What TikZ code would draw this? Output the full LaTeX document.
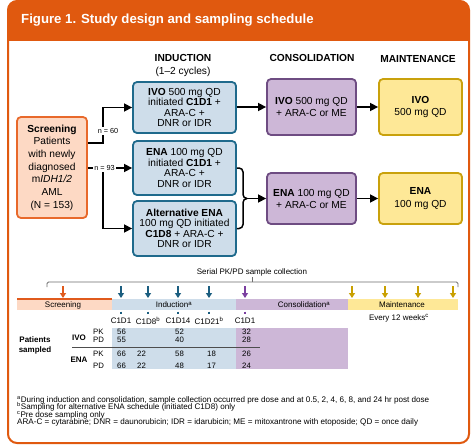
\documentclass[tikz,border=0pt]{standalone}
\usepackage{fontspec}
\setmainfont{Liberation Sans}
\usetikzlibrary{arrows.meta}
\definecolor{hdr}{HTML}{E0590F}
\definecolor{scrfill}{HTML}{FDD9C4}
\definecolor{scrline}{HTML}{E8692B}
\definecolor{bluefill}{HTML}{CEDDEA}
\definecolor{blueline}{HTML}{1F6A8C}
\definecolor{purpfill}{HTML}{CDB7D7}
\definecolor{purpline}{HTML}{6E4C82}
\definecolor{yelfill}{HTML}{FEE897}
\definecolor{yelline}{HTML}{C9A10C}
\definecolor{tlgray}{HTML}{6E6E6E}
\definecolor{arrblue}{HTML}{1B5E80}
\definecolor{arrpurp}{HTML}{7B3FA0}
\definecolor{arrgold}{HTML}{C9A000}
\definecolor{arrorange}{HTML}{E05A1C}
\newcommand\fsz[2]{\fontsize{#1}{#2}\selectfont}
\newcommand\tightlines{\lineskiplimit=-20pt\relax\lineskip=0pt\relax}
\begin{document}
\begin{tikzpicture}[x=1pt,y=-1pt,
  box/.style={draw, line width=1.8pt, rounded corners=4pt, align=center, inner sep=0pt, font=\fsz{10.2}{10.5}},
  indbox/.style={box, fill=bluefill, draw=blueline, minimum width=103pt},
  consbox/.style={box, fill=purpfill, draw=purpline, minimum width=89pt, font=\fsz{10.2}{12}},
  maintbox/.style={box, fill=yelfill, draw=yelline, minimum width=83pt, font=\fsz{10.2}{12.5}},
  hd/.style={font=\fsz{10.2}{12}\bfseries},
  conn/.style={line width=1.5pt, -{Triangle[length=8pt,width=8pt]}},
  plain/.style={line width=1.5pt},
  nlab/.style={fill=white, inner sep=1pt, font=\fsz{7.3}{8}},
  tarr/.style={line width=1.3pt, -{Triangle[length=5pt,width=6pt]}},
  tl/.style={font=\fsz{8}{9.5}},
  tb/.style={font=\fsz{7.8}{9}, anchor=west, inner sep=0pt},
  tbb/.style={font=\fsz{8}{9.5}\bfseries, align=center, inner sep=0pt},
]
\useasboundingbox (0,0) rectangle (474,447);
\fill[white] (0,0) rectangle (474,447);
% frame and header
\begin{scope}
\clip[rounded corners=9pt] (8,1) rectangle (469,443);
\fill[hdr] (8,1) rectangle (469,41);
\end{scope}
\draw[hdr, line width=2pt, rounded corners=9pt] (8,1) rectangle (469,443);
\node[anchor=west, text=white, font=\fsz{13.2}{15}\bfseries, inner sep=0pt] (title) at (21,20) {Figure 1. Study design and sampling schedule};

% column headers
\node[hd] (hInd) at (183,58) {INDUCTION};
\node[font=\fsz{10.2}{12}] (hCyc) at (183,72) {(1--2 cycles)};
\node[hd] (hCons) at (312,58) {CONSOLIDATION};
\node[hd] (hMaint) at (418,59) {MAINTENANCE};

% boxes
\node[box, fill=scrfill, draw=scrline, minimum width=70pt, minimum height=101pt, font=\fsz{10.2}{12.7}] (scr) at (52,167.5)
  {\textbf{Screening}\\Patients\\with newly\\diagnosed\\m\textit{IDH1/2}\\AML\\(N = 153)};
\node[indbox, minimum height=51pt] (ivoInd) at (184.5,107.5) {\textbf{IVO} 500 mg QD\\initiated \textbf{C1D1} +\\ARA-C +\\DNR or IDR};
\node[indbox, minimum height=54pt] (enaInd) at (184.5,168) {\textbf{ENA} 100 mg QD\\initiated \textbf{C1D1} +\\ARA-C +\\DNR or IDR};
\node[indbox, minimum height=55pt] (altInd) at (184.5,228.5) {\textbf{Alternative ENA}\\100 mg QD initiated\\\textbf{C1D8} + ARA-C +\\DNR or IDR};
\node[consbox, minimum height=56pt] (consIvo) at (311.5,107) {\textbf{IVO} 500 mg QD\\+ ARA-C or ME};
\node[maintbox, minimum height=56pt] (maintIvo) at (420.5,107) {\textbf{IVO}\\500 mg QD};
\node[consbox, minimum height=51pt] (consEna) at (311.5,198.5) {\textbf{ENA} 100 mg QD\\+ ARA-C or ME};
\node[maintbox, minimum height=51pt] (maintEna) at (420.5,198.5) {\textbf{ENA}\\100 mg QD};

% connectors
\coordinate (j60) at (103,143);
\coordinate (j93) at (103,168);
\draw[conn] (scr.east |- j60) -- (j60) |- (ivoInd.west);
\draw[conn] (scr.east |- enaInd.west) -- (enaInd.west);
\draw[conn] (j93) |- (altInd.west);
\node[nlab] (n60) at (108,131) {n = 60};
\node[nlab] (n93) at (104.5,168) {n = 93};
\draw[conn] (ivoInd.east |- consIvo.west) -- (consIvo.west);
\draw[conn] (consIvo.east) -- (maintIvo.west);
\draw[conn] (consEna.east) -- (maintEna.west);
\coordinate (bj) at (243,198.5);
\coordinate (bj2) at (247,198.5);
\draw[plain, rounded corners=4pt] (enaInd.east) -| (bj) -- (bj2);
\draw[plain, rounded corners=4pt] (altInd.east) -| (bj) -- (bj2);
\draw[conn] (bj2) -- (consEna.west);

% timeline
\node[tl] (serial) at (252,272) {Serial PK/PD sample collection};
\draw[tlgray, line width=0.9pt, rounded corners=1.5pt] (47,287) -- (47,282) -- (458,282) -- (458,287);
\draw[tlgray, line width=0.9pt] (252,282) -- (252,277);
% phase bar
\fill[scrfill] (17,299) rectangle (112,310);
\draw[arrorange, line width=1.4pt] (17,299) -- (112,299);
\fill[bluefill] (112,299) rectangle (236,310);
\fill[purpfill] (236,299) rectangle (348,310);
\fill[yelfill] (348,299) rectangle (458,310);
\node[tl] (pScr) at (63,305) {Screening};
\node[tl] (pInd) at (174,305) {Induction\textsuperscript{a}};
\node[tl] (pCons) at (304,305) {Consolidation\textsuperscript{a}};
\node[tl] (pMaint) at (402,305) {Maintenance};
\node[tl] (every) at (399,318) {Every 12 weeks\textsuperscript{c}};
% arrows
\draw[tarr, arrorange] (63,286) -- (63,298);
\foreach \x in {121,148,178,209} {
  \draw[tarr, arrblue] (\x,286) -- (\x,298);
  \draw[arrblue, line width=1.2pt] (\x,311.5) -- (\x,314);
}
\draw[tarr, arrpurp] (245,286) -- (245,298);
\draw[arrpurp, line width=1.2pt] (245,311.5) -- (245,314);
\foreach \x in {352,385,418,453} {
  \draw[tarr, arrgold] (\x,286) -- (\x,298);
}
\node[tl] (c1) at (121,321) {C1D1};
\node[tl] (c8) at (148,321) {C1D8\textsuperscript{b}};
\node[tl] (c14) at (178,321) {C1D14};
\node[tl] (c21) at (209,321) {C1D21\textsuperscript{b}};
\node[tl] (cc1) at (245,321) {C1D1};

% table
\fill[bluefill] (112,328) rectangle (236,369);
\fill[purpfill] (236,328) rectangle (348,369);
\node[tbb] (ps) at (35,345.5) {Patients\\sampled};
\node[tbb] (tIvo) at (79,338) {IVO};
\node[tbb] (tEna) at (79,360) {ENA};
\draw[tlgray!70!black, line width=1pt] (72,347.7) -- (260,347.7);
\node[tb] (ivoPK) at (93,332) {PK};
\node[tb] (ivoPD) at (93,340) {PD};
\node[tb] (enaPK) at (93,354) {PK};
\node[tb] (enaPD) at (93,365.5) {PD};
\node[tb] (a1) at (117,332) {56};
\node[tb] (a3) at (175,332) {52};
\node[tb] (a5) at (242,332) {32};
\node[tb] (b1) at (117,340) {55};
\node[tb] (b3) at (175,340) {40};
\node[tb] (b5) at (242,340) {28};
\node[tb] (c1v) at (117,354) {66};
\node[tb] (c2v) at (137,354) {22};
\node[tb] (c3v) at (175,354) {58};
\node[tb] (c4v) at (207,354) {18};
\node[tb] (c5v) at (242,354) {26};
\node[tb] (d1v) at (117,365.5) {66};
\node[tb] (d2v) at (137,365.5) {22};
\node[tb] (d3v) at (175,365.5) {48};
\node[tb] (d4v) at (207,365.5) {17};
\node[tb] (d5v) at (242,365.5) {24};

% footnotes
\node[anchor=north west, align=left, inner sep=0pt, font=\fsz{8.1}{7.6}\tightlines] (fn) at (17,396)
 {\textsuperscript{a}During induction and consolidation, sample collection occurred pre dose and at 0.5, 2, 4, 6, 8, and 24 hr post dose\\
  \textsuperscript{b}Sampling for alternative ENA schedule (initiated C1D8) only\\
  \textsuperscript{c}Pre dose sampling only\\
  ARA-C = cytarabine; DNR = daunorubicin; IDR = idarubicin; ME = mitoxantrone with etoposide; QD = once daily};
\end{tikzpicture}
\end{document}
